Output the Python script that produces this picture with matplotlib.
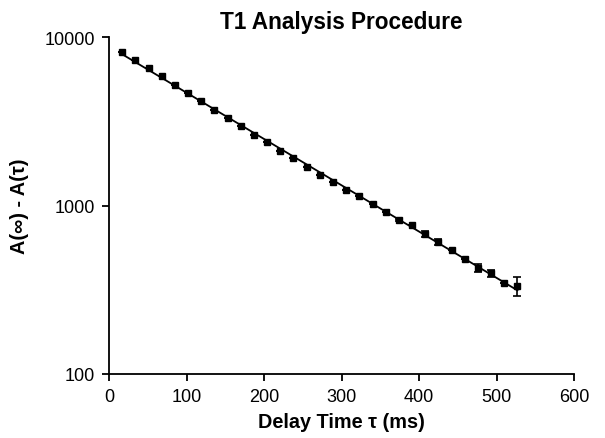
import numpy as np
import matplotlib
matplotlib.use("Agg")
import matplotlib.pyplot as plt
from matplotlib.ticker import FixedLocator, NullLocator, FixedFormatter

plt.rcParams['font.family'] = ['Liberation Sans', 'DejaVu Sans']

# Data
delay_ms = [17, 34, 51, 68, 85, 102, 119, 136, 153, 170, 187, 204, 221, 238, 255,
            272, 289, 306, 323, 340, 357, 374, 391, 408, 425, 442, 459, 476, 493, 510, 527]
signal = [8210, 7360, 6540, 5865, 5230, 4650, 4200, 3713, 3329, 2960, 2638, 2387, 2120,
          1926, 1689, 1520, 1375, 1235, 1145, 1022, 920, 818, 767, 678, 608, 545, 481,
          428, 396, 347, 334]
signal_err = [0, 0, 0, 0, 0, 0, 0, 0, 0, 0, 0, 0, 0, 0, 0, 0, 0, 0, 0, 0, 0, 12, 0,
              25, 22, 0, 0, 22, 20, 0, 44]

x_ticks = [0, 100, 200, 300, 400, 500, 600]
y_ticks = [100, 1000, 10000]
y_tick_labels = ['100', '1000', '10000']

# exponential fit (derived from data)
xd = np.array(delay_ms, dtype=float)
yd = np.array(signal, dtype=float)
slope, intercept = np.polyfit(xd, np.log(yd), 1)
xf = np.linspace(xd.min(), xd.max(), 200)
yf = np.exp(intercept + slope * xf)

fig = plt.figure(figsize=(6.05, 4.39), dpi=100)
ax = fig.add_axes([109/605, 1 - 375/439, (574-109)/605, (375-38.3)/439])

ax.plot(xf, yf, color='black', lw=1.3, zorder=2)
ax.errorbar(delay_ms, signal, yerr=signal_err, fmt='s', color='black', ms=4.8,
            ecolor='black', elinewidth=1.2, capsize=3, capthick=1.2, zorder=3)

ax.set_yscale('log')
ax.set_xlim(0, 600)
ax.set_ylim(100, 10000)
ax.xaxis.set_major_locator(FixedLocator(x_ticks))
ax.yaxis.set_major_locator(FixedLocator(y_ticks))
ax.yaxis.set_major_formatter(FixedFormatter(y_tick_labels))
ax.yaxis.set_minor_locator(NullLocator())
ax.xaxis.set_minor_locator(NullLocator())

for s in ['top', 'right']:
    ax.spines[s].set_visible(False)
for s in ['left', 'bottom']:
    ax.spines[s].set_linewidth(1.3)
ax.tick_params(direction='out', length=5, width=1.3, labelsize=13, pad=5)

ax.set_title('T1 Analysis Procedure', fontsize=16.3, fontweight='bold', pad=7)
ax.set_xlabel('Delay Time τ (ms)', fontsize=14.3, fontweight='bold', labelpad=5)
ax.set_ylabel('A(∞) - A(τ)', fontsize=14.3, fontweight='bold', labelpad=11)

fig.savefig('out.png', dpi=100)
